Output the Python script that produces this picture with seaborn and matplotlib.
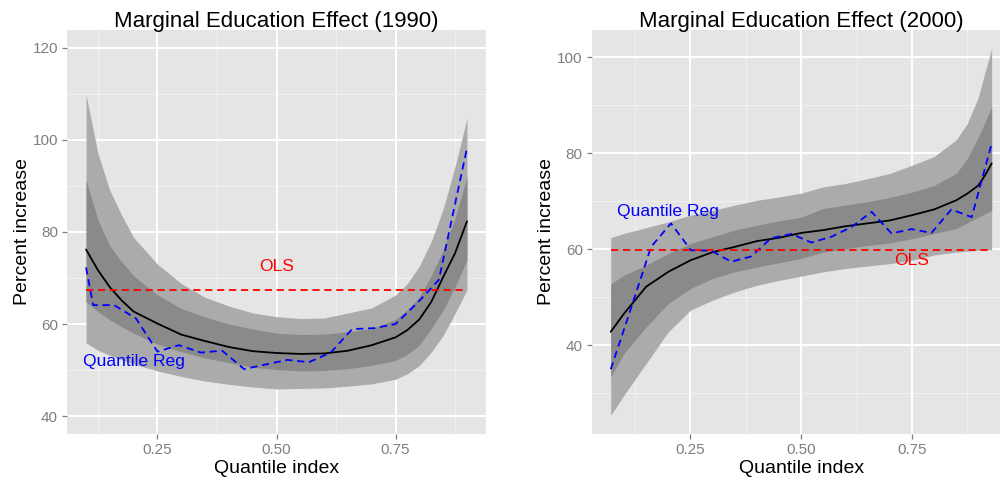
import numpy as np
import matplotlib
matplotlib.use("Agg")
import matplotlib.pyplot as plt
import seaborn as sns

# ---------------- data: 1990 ----------------
x90 = [0.1, 0.125, 0.15, 0.175, 0.2, 0.25, 0.3, 0.35, 0.4, 0.45, 0.5, 0.55, 0.6,
       0.65, 0.7, 0.75, 0.775, 0.8, 0.825, 0.85, 0.875, 0.9]
mid90 = [76.2, 71.7, 68.0, 65.1, 62.7, 60.1, 57.7, 56.3, 55.0, 54.1, 53.7, 53.5, 53.6,
         54.2, 55.4, 57.1, 58.7, 61.0, 64.8, 70.2, 75.4, 82.3]
outer_hi90 = [109.8, 97.1, 89.0, 83.6, 78.8, 73.0, 68.8, 65.8, 63.9, 62.4, 61.6, 61.2, 61.3,
              62.4, 63.5, 66.3, 68.8, 72.6, 77.9, 85.0, 94.2, 104.7]
inner_hi90 = [91.3, 82.6, 77.0, 73.5, 70.5, 66.3, 63.4, 61.5, 60.0, 58.9, 58.0, 57.7, 57.8,
              58.3, 59.0, 61.0, 63.1, 65.9, 70.5, 76.0, 83.0, 92.0]
inner_lo90 = [64.8, 62.7, 60.9, 59.4, 58.0, 55.6, 54.0, 52.6, 51.6, 50.6, 50.1, 49.8, 49.9,
              50.3, 51.0, 52.1, 53.4, 55.4, 59.0, 63.0, 68.1, 73.9]
outer_lo90 = [55.9, 54.3, 53.2, 52.2, 51.3, 49.8, 48.6, 47.6, 46.9, 46.3, 45.9, 46.0, 46.1,
              46.5, 47.0, 48.0, 49.2, 51.0, 53.9, 57.5, 62.3, 67.4]
qr_tau90 = [0.1, 0.115, 0.159, 0.205, 0.25, 0.295, 0.341, 0.386, 0.432, 0.477,
            0.523, 0.568, 0.614, 0.659, 0.705, 0.75, 0.795, 0.841, 0.9]
qr_val90 = [72.3, 64.1, 64.1, 61.2, 54.0, 55.4, 53.8, 54.2, 50.2, 51.2,
            52.2, 51.7, 53.8, 58.9, 59.1, 60.0, 64.5, 69.6, 98.2]
ols90 = 67.4

# ---------------- data: 2000 ----------------
x00 = [0.07, 0.1, 0.15, 0.2, 0.25, 0.3, 0.35, 0.4, 0.45, 0.5, 0.55, 0.6,
       0.65, 0.7, 0.75, 0.8, 0.85, 0.875, 0.9, 0.915, 0.93]
mid00 = [42.8, 46.6, 52.2, 55.3, 57.7, 59.4, 60.5, 61.7, 62.4, 63.4, 64.0, 64.8,
         65.4, 66.0, 67.1, 68.3, 70.2, 71.6, 73.3, 75.4, 77.9]
outer_hi00 = [62.4, 63.3, 64.5, 65.7, 67.1, 68.1, 69.2, 70.2, 70.9, 71.7, 73.0, 73.7,
              74.7, 75.8, 77.5, 79.3, 82.8, 86.2, 91.7, 96.9, 101.8]
inner_hi00 = [52.8, 54.6, 56.7, 59.1, 61.2, 62.6, 64.0, 65.0, 65.9, 66.7, 68.5, 69.2,
              69.9, 70.8, 71.9, 73.3, 75.8, 78.9, 83.4, 86.5, 89.6]
inner_lo00 = [33.4, 38.3, 43.8, 48.7, 51.8, 53.9, 55.3, 56.3, 57.2, 58.1, 59.4, 60.1,
              60.8, 61.3, 62.2, 63.3, 64.3, 65.5, 66.7, 67.4, 68.1]
outer_lo00 = [25.4, 29.6, 36.2, 42.8, 47.3, 49.4, 51.1, 52.5, 53.5, 54.4, 55.3, 56.0,
              56.5, 57.0, 57.7, 58.8, 59.4, 59.6, 59.8, 59.9, 59.9]
qr_tau00 = [0.07, 0.115, 0.161, 0.206, 0.251, 0.297, 0.342, 0.387, 0.432, 0.478,
            0.523, 0.568, 0.613, 0.659, 0.704, 0.749, 0.794, 0.839, 0.885, 0.93]
qr_val00 = [35.0, 47.5, 60.5, 65.4, 59.8, 59.7, 57.4, 58.5, 62.3, 63.2,
            61.4, 62.6, 64.6, 67.8, 63.3, 64.2, 63.4, 68.3, 66.7, 82.0]
ols00 = 59.8

titles = ["Marginal Education Effect (1990)", "Marginal Education Effect (2000)"]
x_ticks = [0.25, 0.50, 0.75]
x_ticklabels = ["0.25", "0.50", "0.75"]
y_ticks90 = [40, 60, 80, 100, 120]
y_ticks00 = [40, 60, 80, 100]

# ---------------- style ----------------
sns.set_theme(style="darkgrid")
plt.rcParams["font.family"] = ["Liberation Sans", "DejaVu Sans"]

fig = plt.figure(figsize=(10, 4.82), dpi=100)
ax1 = fig.add_axes([0.067, 0.0996, 0.419, 0.8382])
ax2 = fig.add_axes([0.5917, 0.0996, 0.419, 0.8382])

OUTER = "#ABABAB"
INNER = "#8A8A8A"
DASH = (0, (4, 2.6))


def draw(ax, x, mid, ohi, ihi, ilo, olo, qx, qy, ols, title, yticks, ylim, xlim,
         ols_pos, qr_pos):
    ax.set_facecolor("#E5E5E5")
    ax.fill_between(x, olo, ohi, color=OUTER, lw=0, zorder=2)
    ax.fill_between(x, ilo, ihi, color=INNER, lw=0, zorder=3)
    sns.lineplot(x=x, y=mid, ax=ax, color="black", lw=1.3, zorder=4)
    sns.lineplot(x=qx, y=qy, ax=ax, color="#0000FF", lw=1.3, linestyle=DASH, zorder=5)
    sns.lineplot(x=[x[0], x[-1]], y=[ols, ols], ax=ax, color="#FF0000", lw=1.3,
                 linestyle=DASH, zorder=5)
    ax.text(ols_pos[0], ols_pos[1], "OLS", color="#FF0000", fontsize=12.6,
            ha="center", va="center", zorder=6)
    ax.text(qr_pos[0], qr_pos[1], "Quantile Reg", color="#0000FF", fontsize=12.6,
            ha="center", va="center", zorder=6)

    ax.set_xlim(*xlim)
    ax.set_ylim(*ylim)
    ax.set_xticks(x_ticks)
    ax.set_xticklabels(x_ticklabels)
    ax.set_yticks(yticks)
    ax.set_xticks([0.125, 0.375, 0.625, 0.875], minor=True)
    minor_y = [t + 10 for t in yticks[:-1]]
    if ylim[0] < yticks[0] - 10:
        minor_y = [yticks[0] - 10] + minor_y
    ax.set_yticks(minor_y, minor=True)
    ax.grid(which="major", color="white", lw=1.4, zorder=0)
    ax.grid(which="minor", color="#F2F2F2", lw=0.7, zorder=0)
    ax.set_axisbelow(True)
    for s in ax.spines.values():
        s.set_visible(False)
    ax.tick_params(which="major", length=3.6, width=0.9, color="#7F7F7F",
                   labelcolor="#7F7F7F", labelsize=11, pad=2.8, bottom=True, left=True)
    ax.tick_params(which="minor", length=0, bottom=False, left=False)
    ax.set_title(title, fontsize=16, pad=2.4, color="black")
    ax.set_xlabel("Quantile index", fontsize=14, color="black")
    ax.set_ylabel("Percent increase", fontsize=14, color="black")
    ax.xaxis.set_label_coords(0.5, -0.064)
    ax.yaxis.set_label_coords(-0.087, 0.5)


draw(ax1, x90, mid90, outer_hi90, inner_hi90, inner_lo90, outer_lo90,
     qr_tau90, qr_val90, ols90, titles[0], y_ticks90, (36.1, 123.9), (0.06, 0.94),
     (0.5, 72.6), (0.2, 51.8))
draw(ax2, x00, mid00, outer_hi00, inner_hi00, inner_lo00, outer_lo00,
     qr_tau00, qr_val00, ols00, titles[1], y_ticks00, (21.5, 105.7), (0.027, 0.973),
     (0.75, 57.6), (0.2, 67.8))

fig.savefig("out.png", dpi=100)
